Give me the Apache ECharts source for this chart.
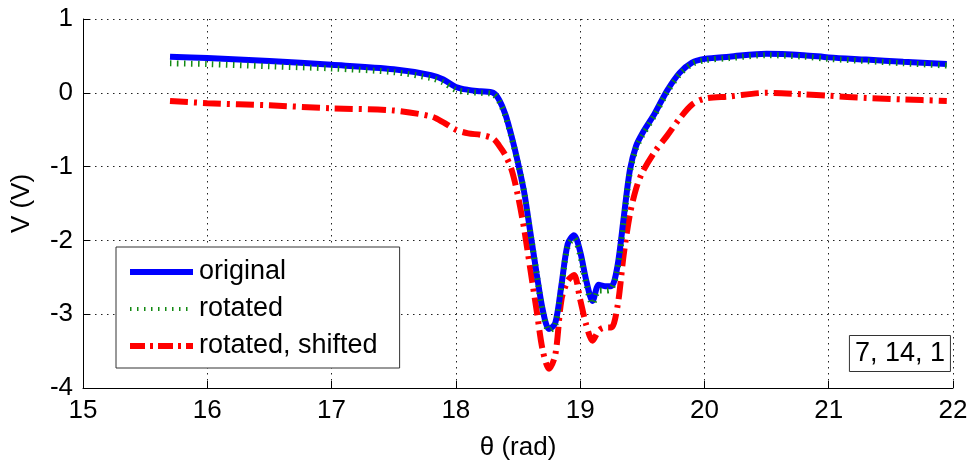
<!DOCTYPE html>
<html>
<head>
<meta charset="utf-8">
<script src="https://cdn.jsdelivr.net/npm/echarts@6/dist/echarts.min.js"></script>
<style>html,body{margin:0;padding:0;background:#fff;}#c{width:972px;height:466px;}</style>
</head>
<body>
<div id="c"></div>
<script>
const theta = [15.7,16.0,16.5,17.0,17.5,17.8,17.9,18.0,18.1,18.2,18.3,18.35,18.4,18.45,18.5,18.55,18.6,18.65,18.7,18.75,18.8,18.85,18.9,18.95,19.0,19.05,19.1,19.15,19.2,19.25,19.3,19.35,19.4,19.45,19.5,19.6,19.7,19.8,19.9,20.0,20.2,20.5,20.8,21.0,21.3,21.6,21.95];
const original = [0.49,0.47,0.43,0.38,0.32,0.24,0.18,0.08,0.04,0.02,0.0,-0.10,-0.30,-0.60,-0.95,-1.35,-1.90,-2.45,-2.95,-3.20,-3.12,-2.60,-2.05,-1.93,-2.15,-2.55,-2.82,-2.60,-2.62,-2.62,-2.35,-1.70,-1.05,-0.72,-0.55,-0.28,0.03,0.27,0.41,0.46,0.49,0.53,0.51,0.48,0.45,0.42,0.39];
const rotated = [0.40,0.39,0.36,0.33,0.28,0.20,0.14,0.04,0.01,0.0,-0.02,-0.12,-0.32,-0.62,-0.95,-1.35,-1.90,-2.45,-2.98,-3.22,-3.15,-2.62,-2.08,-1.97,-2.20,-2.60,-2.86,-2.68,-2.68,-2.66,-2.40,-1.75,-1.08,-0.75,-0.58,-0.30,0.01,0.25,0.39,0.44,0.47,0.51,0.49,0.46,0.43,0.40,0.37];
const shifted = [-0.11,-0.14,-0.17,-0.21,-0.24,-0.32,-0.40,-0.50,-0.55,-0.57,-0.62,-0.72,-0.85,-1.05,-1.40,-1.85,-2.40,-2.95,-3.50,-3.74,-3.55,-2.80,-2.55,-2.47,-2.80,-3.15,-3.36,-3.22,-3.18,-3.18,-2.90,-2.20,-1.65,-1.30,-1.08,-0.80,-0.58,-0.35,-0.16,-0.08,-0.05,0.0,-0.02,-0.04,-0.07,-0.09,-0.11];
const xTicks = [15,16,17,18,19,20,21,22];
const yTicks = [-4,-3,-2,-1,0,1];
const seriesNames = ['original','rotated','rotated, shifted'];

const FONT = "'Liberation Sans', Arial, Helvetica, sans-serif";
const pair = (ys) => theta.map((t,i)=>[t, ys[i]]);
const chart = echarts.init(document.getElementById('c'));
const grid = {type:[1.5,4.5], color:'#222', width:1};
const styles = [
  {color:'#0000ff', width:6, type:'solid'},
  {color:'#138a13', width:6, type:[1.5,5.5], cap:'butt'},
  {color:'#ff0000', width:6, type:[18,6,3,6], cap:'butt'}
];
chart.setOption({
  animation:false,
  backgroundColor:'#fff',
  grid:{left:83,right:19,top:19,bottom:74},
  title:{text:'7, 14, 1', right:21, top:335, borderWidth:1, borderColor:'#333', padding:[5,6,5,6],
    textStyle:{fontFamily:FONT, fontSize:27, fontWeight:'normal', color:'#000'}},
  legend:{
    data:seriesNames.map((n,i)=>({name:n, itemStyle:{opacity:0}, lineStyle:Object.assign({}, styles[i], {width: i===1 ? 4 : 6, type: i===2 ? [15,5,3,5] : styles[i].type})})),
    orient:'vertical', left:116, top:247,
    borderWidth:1, borderColor:'#333', backgroundColor:'#fff',
    padding:[10,22,7,11], itemGap:7, itemWidth:63, itemHeight:20,
    textStyle:{fontFamily:FONT, fontSize:27, color:'#000', lineHeight:30, padding:[0,0,0,1]}
  },
  xAxis:{type:'value', min:xTicks[0], max:xTicks[xTicks.length-1], interval:1,
    name:'θ (rad)', nameLocation:'middle', nameGap:47,
    nameTextStyle:{fontFamily:FONT, fontSize:26, color:'#000'},
    axisLine:{show:true, onZero:false, lineStyle:{color:'#000', width:1}},
    axisTick:{show:true, inside:true, length:7, lineStyle:{color:'#000'}},
    axisLabel:{fontFamily:FONT, fontSize:26, color:'#000', margin:10},
    splitLine:{show:true, lineStyle:grid}},
  yAxis:{type:'value', min:yTicks[0], max:yTicks[yTicks.length-1], interval:1,
    name:'V (V)', nameLocation:'middle', nameGap:48, nameRotate:90,
    nameTextStyle:{fontFamily:FONT, fontSize:26, color:'#000'},
    axisLine:{show:true, onZero:false, lineStyle:{color:'#000', width:1}},
    axisTick:{show:true, inside:true, length:7, lineStyle:{color:'#000'}},
    axisLabel:{fontFamily:FONT, fontSize:26, color:'#000', margin:10},
    splitLine:{show:true, lineStyle:grid}},
  series:[
    {name:seriesNames[0], type:'line', data:pair(original), showSymbol:false, symbol:'none', smooth:0.3, z:3,
      lineStyle:styles[0], itemStyle:{color:styles[0].color}},
    {name:seriesNames[1], type:'line', data:pair(rotated), showSymbol:false, symbol:'none', smooth:0.3, z:4,
      lineStyle:styles[1], itemStyle:{color:styles[1].color}},
    {name:seriesNames[2], type:'line', data:pair(shifted), showSymbol:false, symbol:'none', smooth:0.3, z:2,
      lineStyle:styles[2], itemStyle:{color:styles[2].color}}
  ]
});
</script>
</body>
</html>
